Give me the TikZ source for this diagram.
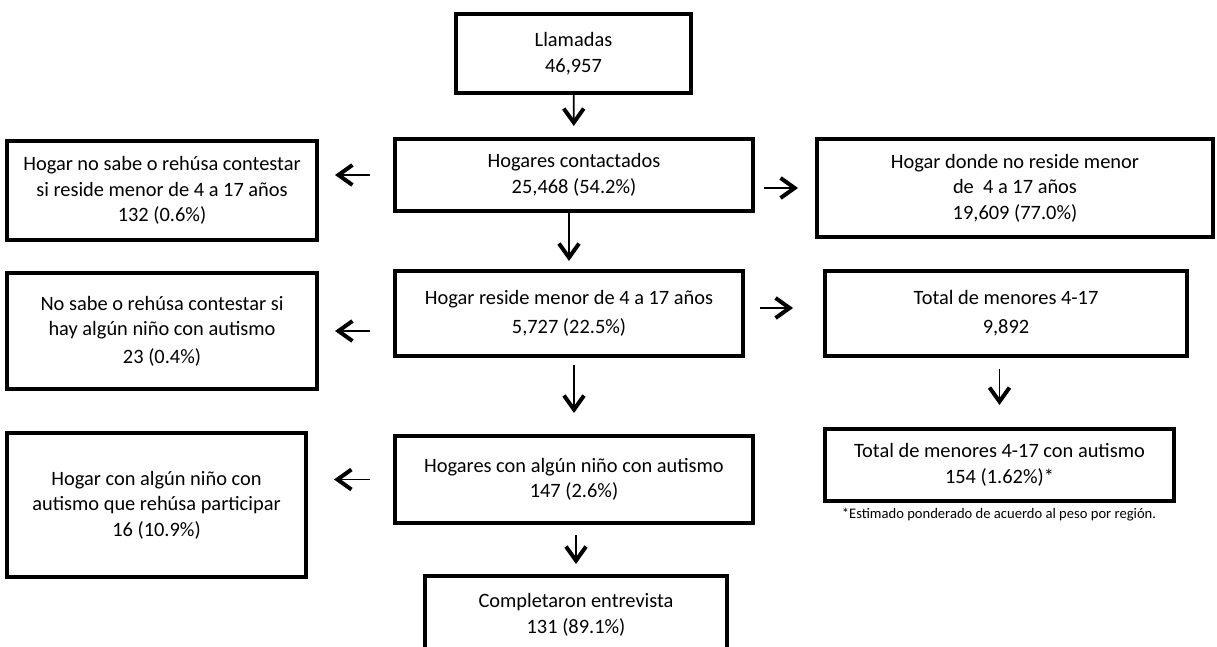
\documentclass[tikz,border=0pt]{standalone}
\usepackage{fontspec}
\setmainfont{Carlito}
\usetikzlibrary{arrows.meta}

\begin{document}
\begin{tikzpicture}[x=0.5pt,y=-0.5pt,
	caja/.style={draw=black, line width=2pt, align=center, inner sep=0pt,
		font=\fontsize{10.2}{12.8}\selectfont},
	flecha/.style={line width=0.9pt, -{Straight Barb[length=7pt,width=10pt,line width=2pt]}},
	nota/.style={font=\fontsize{7.3}{8.5}\selectfont, inner sep=0pt}]
				\clip (0,0) rectangle (1217,647);
				
				\node[caja, minimum width=117.5pt, minimum height=39.5pt] (llam) at (573.5,53.5) {Llamadas\\46,957};
				\node[caja, minimum width=179pt, minimum height=36pt] (cont) at (574,175) {Hogares contactados\\25,468 (54.2\%)};
				\node[caja, minimum width=155pt, minimum height=49.5pt] (nosr) at (162,190.5) {Hogar no sabe o rehúsa contestar\\si reside menor de 4 a 17 años\\132 (0.6\%)};
				\node[caja, minimum width=198pt, minimum height=49pt] (nores) at (1015,188) {Hogar donde no reside menor\\de\ \ 4 a 17 años\\19,609 (77.0\%)};
				
				\node[caja, minimum width=174pt, minimum height=42.5pt] (resi) at (569,313.5) {Hogar reside menor de 4 a 17 años\\[2pt]5,727 (22.5\%)};
				\node[caja, minimum width=155pt, minimum height=58pt] (nsaut) at (162,331) {No sabe o rehúsa contestar si\\hay algún niño con autismo\\[1pt]23 (0.4\%)};
				\node[caja, minimum width=181pt, minimum height=42.5pt] (tot) at (1006,313.5) {Total de menores 4-17\\[1.5pt]9,892};
				
				\node[caja, minimum width=179pt, minimum height=43.5pt] (alg) at (574,479.5) {Hogares con algún niño con autismo\\147 (2.6\%)};
				\node[caja, minimum width=149.5pt, minimum height=72pt] (rehu) at (156.5,505) {Hogar con algún niño con\\autismo que rehúsa participar\\16 (10.9\%)};
				\node[caja, minimum width=174.5pt, minimum height=36pt] (tota) at (999.5,465) {Total de menores 4-17 con autismo\\154 (1.62\%)*};
				\node[nota] (pie) at (999,515) {*Estimado ponderado de acuerdo al peso por región.};
				
				\node[caja, minimum width=151pt, minimum height=39pt] (comp) at (576,615) {Completaron entrevista\\131 (89.1\%)};
				
				\draw[flecha, shorten >=5.5pt] (llam) -- (cont);
				\draw[flecha, shorten >=4pt] (cont.south -| resi.north) -- (resi.north);
				\draw[flecha, shorten <=3.5pt, shorten >=10.5pt] (resi.south -| alg.north) -- (alg.north);
				\draw[flecha, shorten <=5pt, shorten >=5pt] (alg.south -| comp.north) -- (comp.north);
				\draw[flecha, shorten <=5.5pt, shorten >=11pt] (tot.south -| tota.north) -- (tota.north);
				
				\draw[flecha, shorten <=11.5pt, shorten >=8pt] (cont.west) -- (cont.west -| nosr.east);
				\draw[flecha, shorten <=4.5pt, shorten >=8.5pt] (cont.east |- nores.west) -- (nores.west);
				\draw[flecha, shorten <=11.5pt, shorten >=8pt] (resi.west |- nsaut.east) -- (nsaut.east);
				\draw[flecha, shorten <=7.5pt, shorten >=15pt] ([yshift=2.75pt]resi.east) -- ([yshift=2.75pt]resi.east -| tot.west);
				\draw[flecha, shorten <=11.5pt, shorten >=13pt] (alg.west) -- (alg.west -| rehu.east);
			\end{tikzpicture}
\end{document}
